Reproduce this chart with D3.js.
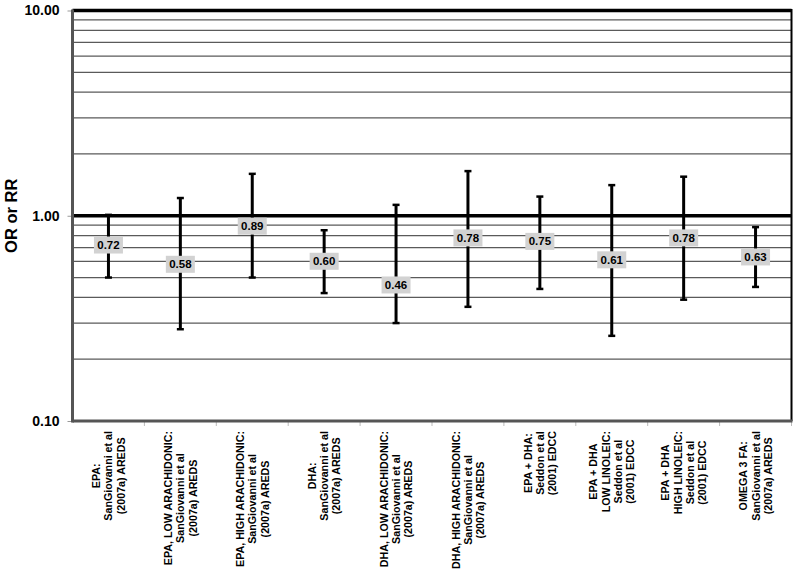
<!DOCTYPE html>
<html><head><meta charset="utf-8">
<script src="https://cdn.jsdelivr.net/npm/d3@7"></script>
<style>body{margin:0;background:#fff}svg{display:block}text{font-family:"Liberation Sans",Arial,sans-serif;font-weight:bold}</style>
</head><body>
<svg id="c" width="800" height="588"></svg>
<script>
const categories = [
  ["EPA:", "SanGiovanni et al", "(2007a) AREDS"],
  ["EPA, LOW ARACHIDONIC:", "SanGiovanni et al", "(2007a) AREDS"],
  ["EPA, HIGH ARACHIDONIC:", "SanGiovanni et al", "(2007a) AREDS"],
  ["DHA:", "SanGiovanni et al", "(2007a) AREDS"],
  ["DHA, LOW ARACHIDONIC:", "SanGiovanni et al", "(2007a) AREDS"],
  ["DHA, HIGH ARACHIDONIC:", "SanGiovanni et al", "(2007a) AREDS"],
  ["EPA + DHA:", "Seddon et al", "(2001) EDCC"],
  ["EPA + DHA", "LOW LINOLEIC:", "Seddon et al", "(2001) EDCC"],
  ["EPA + DHA", "HIGH LINOLEIC:", "Seddon et al", "(2001) EDCC"],
  ["OMEGA 3 FA:", "SanGiovanni et al", "(2007a) AREDS"]
];
const estimates = [0.72, 0.58, 0.89, 0.60, 0.46, 0.78, 0.75, 0.61, 0.78, 0.63];
const lower = [0.50, 0.28, 0.50, 0.42, 0.30, 0.36, 0.44, 0.26, 0.39, 0.45];
const upper = [1.01, 1.22, 1.60, 0.85, 1.13, 1.65, 1.24, 1.41, 1.55, 0.88];
const yTicks = [0.1, 1, 10];
const gridValues = [0.2,0.3,0.4,0.5,0.6,0.7,0.8,0.9,2,3,4,5,6,7,8,9];
const yTitle = "OR or RR";

const svg = d3.select("#c");
const L = 72.5, R = 791.5, T = 10.5, B = 421;
const y = d3.scaleLog().domain([0.1, 10]).range([B, T]);
const x = d3.scaleBand().domain(d3.range(categories.length)).range([L, R]);

// minor gridlines
svg.append("g").selectAll("line").data(gridValues).join("line")
  .attr("x1", L).attr("x2", R).attr("y1", d => y(d)).attr("y2", d => y(d))
  .attr("stroke", "#5a5a5a").attr("stroke-width", 1.2);
// major lines at 1 and 10
svg.append("g").selectAll("line").data([1, 10]).join("line")
  .attr("x1", L).attr("x2", R).attr("y1", d => y(d)).attr("y2", d => y(d))
  .attr("stroke", "#000").attr("stroke-width", 3.5);
// right border
svg.append("line").attr("x1", R).attr("x2", R).attr("y1", T - 1.5).attr("y2", B)
  .attr("stroke", "#000").attr("stroke-width", 2);

// y axis
const yAxis = svg.append("g").attr("transform", `translate(${L},0)`)
  .call(d3.axisLeft(y).tickValues(yTicks).tickFormat(d3.format(".2f")).tickSize(5).tickPadding(8));
yAxis.select(".domain").remove();
yAxis.selectAll(".tick line").attr("stroke", "#999");
yAxis.selectAll(".tick text").attr("font-size", 14).attr("fill", "#000")
  .attr("font-family", "'Liberation Sans', Arial, sans-serif").attr("font-weight", "bold");
svg.append("line").attr("x1", L).attr("x2", L).attr("y1", T - 1).attr("y2", B + 1.5)
  .attr("stroke", "#555").attr("stroke-width", 3);

// x axis
const xAxis = svg.append("g").attr("transform", `translate(0,${B})`)
  .call(d3.axisBottom(x).tickFormat("").tickSize(0));
xAxis.select(".domain").remove();
svg.append("g").selectAll("line").data(d3.range(1, categories.length + 1)).join("line")
  .attr("x1", d => L + d * x.step()).attr("x2", d => L + d * x.step())
  .attr("y1", B).attr("y2", B + 5).attr("stroke", "#bbb");
svg.append("line").attr("x1", L).attr("x2", R + 1).attr("y1", B).attr("y2", B)
  .attr("stroke", "#555").attr("stroke-width", 3);

// x labels
const fs = 10.7;
const measure = svg.append("text").attr("font-size", fs).attr("font-weight", "bold");
const lineH = 12.3;
categories.forEach((lines, i) => {
  const widths = lines.map(s => { measure.text(s); return measure.node().getComputedTextLength(); });
  const maxW = d3.max(widths);
  const cx = x(i) + x.bandwidth() / 2;
  const n = lines.length;
  const g = svg.append("g").attr("transform", `translate(${cx},431) rotate(-90)`);
  lines.forEach((s, j) => {
    g.append("text").attr("x", -maxW / 2)
      .attr("y", (j - (n - 1) / 2) * lineH + 4)
      .attr("text-anchor", "middle").attr("font-size", fs).attr("fill", "#000").text(s);
  });
});
measure.remove();

// error bars
const cap = 3.5;
const eb = svg.append("g");
categories.forEach((_, i) => {
  const cx = x(i) + x.bandwidth() / 2;
  eb.append("line").attr("x1", cx).attr("x2", cx).attr("y1", y(lower[i])).attr("y2", y(upper[i]))
    .attr("stroke", "#000").attr("stroke-width", 3);
  [lower[i], upper[i]].forEach(v => {
    eb.append("line").attr("x1", cx - cap).attr("x2", cx + cap).attr("y1", y(v)).attr("y2", y(v))
      .attr("stroke", "#000").attr("stroke-width", 2.5);
  });
  eb.append("rect").attr("x", cx - 14.5).attr("y", y(estimates[i]) - 8.5)
    .attr("width", 29).attr("height", 17).attr("fill", "#d2d2d2");
  eb.append("text").attr("x", cx).attr("y", y(estimates[i]) + 4)
    .attr("text-anchor", "middle").attr("font-size", 11.5).attr("fill", "#000")
    .text(d3.format(".2f")(estimates[i]));
});

// y title
svg.append("text").attr("transform", `translate(17,${(T + B) / 2}) rotate(-90)`)
  .attr("text-anchor", "middle").attr("font-size", 16.5).attr("fill", "#000").text(yTitle);
</script>
</body></html>
